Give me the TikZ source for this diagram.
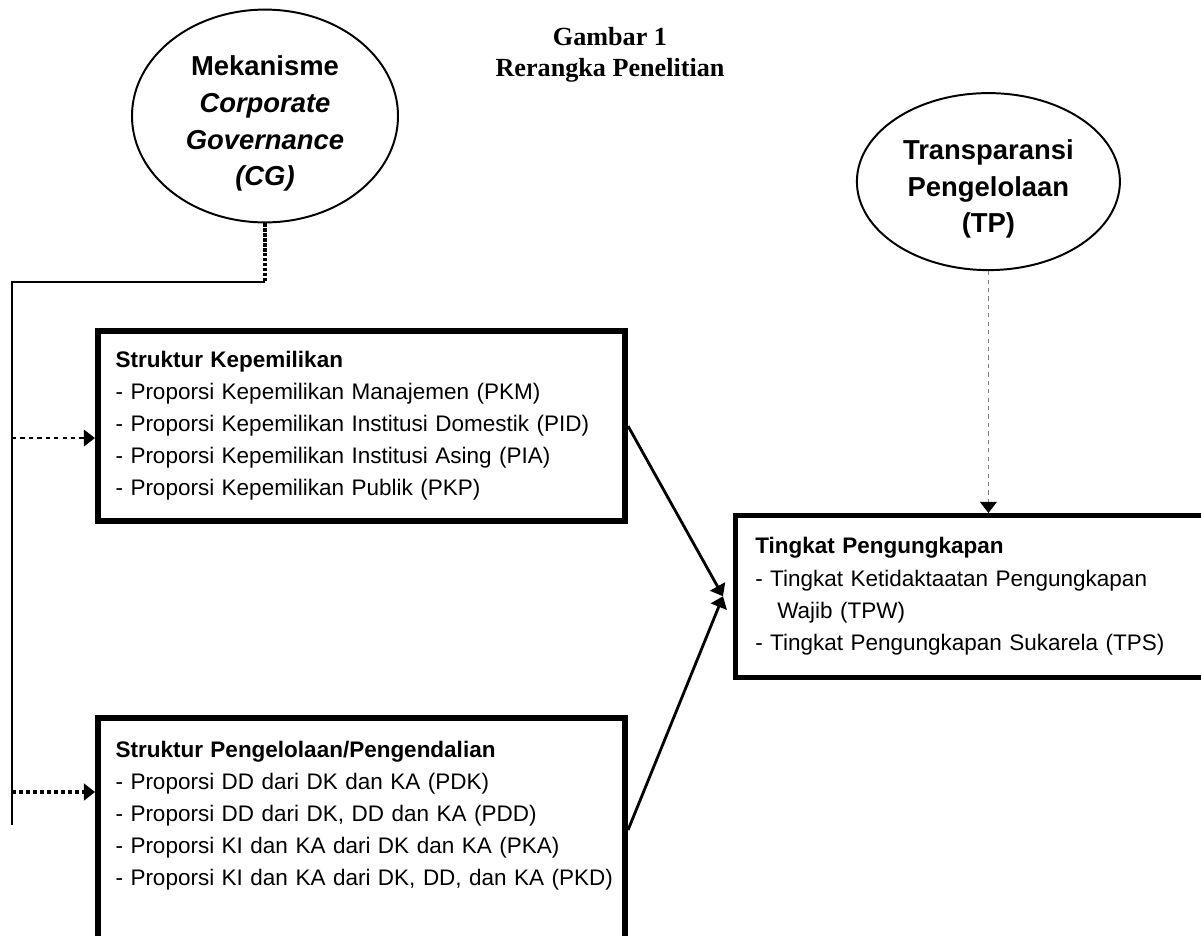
\documentclass[tikz,border=0pt]{standalone}
\usepackage{fontspec}
\setmainfont{Liberation Sans}
\newfontfamily\captionfont{Liberation Serif}
\usepackage{tikz}
\usetikzlibrary{shapes, arrows.meta, positioning, calc}

\begin{document}
\begin{tikzpicture}[
  thickbox/.style={draw, line width=4.3pt, anchor=north west, align=left, text width=12.3cm, inner xsep=0.4375cm, inner ysep=0.5cm, font=\fontsize{16}{22.8}\selectfont},
  oval/.style={draw, ellipse, line width=1.4pt, align=center, inner sep=0pt, font=\fontsize{19.5}{26}\selectfont\bfseries},
  tip/.style={-{Triangle[length=8pt, width=12pt, color=black]}}
]
  \useasboundingbox (0,0) rectangle (30.025,-23.375);

  \node[align=center, font=\captionfont\bfseries\fontsize{18.6}{22}\selectfont] (title) at (15.25,-1.36) {
    Gambar 1\\
    Rerangka Penelitian
  };

  \node[oval, minimum width=6.65cm, minimum height=5.3cm] (cg) at (6.625,-2.9) {
    \rule{0pt}{25pt}Mekanisme\\
    \textit{Corporate}\\
    \textit{Governance}\\
    \textit{(CG)}
  };
  \node[oval, minimum width=6.575cm, minimum height=4.425cm] (tp) at (24.71,-4.54) {
    \rule{0pt}{25pt}Transparansi\\
    Pengelolaan\\
    (TP)
  };

  \node[thickbox, minimum height=4.75cm] (own) at (2.375,-8.2) {
    \textbf{Struktur Kepemilikan}\\
    - Proporsi Kepemilikan Manajemen (PKM)\\
    - Proporsi Kepemilikan Institusi Domestik (PID)\\
    - Proporsi Kepemilikan Institusi Asing (PIA)\\
    - Proporsi Kepemilikan Publik (PKP)
  };
  \node[thickbox, inner ysep=0.575cm] (mgmt) at (2.375,-17.875) {
    \textbf{Struktur Pengelolaan/Pengendalian}\\
    - Proporsi DD dari DK dan KA (PDK)\\
    - Proporsi DD dari DK, DD dan KA (PDD)\\
    - Proporsi KI dan KA dari DK dan KA (PKA)\\
    \makebox[\linewidth][l]{- Proporsi KI dan KA dari DK, DD, dan KA (PKD)}\par
    \rule{0pt}{2cm}
  };
  \node[thickbox, line width=3.2pt, text width=11cm, inner xsep=0.5cm, minimum height=4.05cm] (disc) at (18.325,-12.825) {
    \textbf{Tingkat Pengungkapan}\\
    - Tingkat Ketidaktaatan Pengungkapan\\
    \hspace*{0.55cm}Wajib (TPW)\\
    - Tingkat Pengungkapan Sukarela (TPS)
  };

  \coordinate (bend) at (0.3,-7.05);
  \coordinate (railend) at (0.3,-20.625);
  \coordinate (in1) at ([yshift=-0.3cm]own.west);
  \coordinate (in2) at ([yshift=-1.925cm]mgmt.north west);
  \coordinate (out2) at ([yshift=-2.875cm]mgmt.north east);
  \coordinate (meet) at ([xshift=-0.25cm]disc.west);

  \draw[line width=2.5pt, densely dotted] (cg.south) -- (cg.south |- bend);
  \draw[line width=1.6pt] (cg.south |- bend) -- (bend) -- (railend);
  \draw[tip, dashed, line width=1pt] (in1 -| bend) -- (in1);
  \draw[tip, densely dashed, line width=2.5pt] (in2 -| bend) -- (in2);
  \draw[tip, line width=2pt] (own.east) -- (meet);
  \draw[tip, line width=2pt] (out2) -- (meet);
  \draw[tip, gray, dashed, line width=1.2pt] (tp.south) -- (tp.south |- disc.north);
\end{tikzpicture}
\end{document}
